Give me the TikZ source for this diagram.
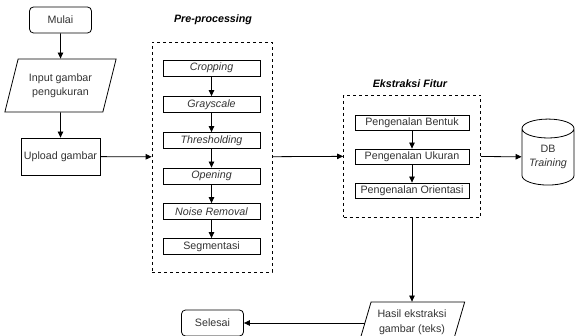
\documentclass[tikz,border=0pt]{standalone}
\usepackage{fontspec}
\setmainfont{Liberation Sans}
\usetikzlibrary{shapes.geometric,arrows.meta}

\begin{document}
\begin{tikzpicture}[
                x=1pt, y=-1pt,
                font=\fontsize{10.7}{12.5}\selectfont,
                every node/.style={text=black!80, inner sep=0pt, align=center},
                box/.style={draw=black, fill=white, minimum width=#1, line width=.8pt},
                box/.default=97pt,
                term/.style={box=62pt, rounded corners=4pt, minimum height=26pt},
                io/.style={draw=black, line width=.8pt, trapezium, trapezium left angle=68, trapezium right angle=112,
                    trapezium stretches=true},
                group/.style={draw=black, dashed, line width=.7pt},
                title/.style={text=black, font=\fontsize{10.7}{12.5}\selectfont\bfseries\itshape},
                >={Triangle[length=6pt, width=5.5pt]},
            ]
                \useasboundingbox (0, 0) rectangle (575, 336);

                \node[term] (start) at (60.5, 20) {Mulai};
                \node[io, minimum width=112pt, minimum height=53pt] (input) at (60.5, 85.5) {Input gambar\\[2pt]pengukuran};
                \node[box=79pt, minimum height=37pt] (upload) at (60.5, 156.5) {Upload gambar};

                \node[title] (pretitle) at (213, 20) {Pre-processing};
                \node[group, minimum width=120pt, minimum height=230pt] (pre) at (212, 157) {};
                \node[box, minimum height=16pt] (crop) at (211.5, 68) {\itshape Cropping};
                \node[box, minimum height=16pt] (gray) at (211.5, 104.5) {\itshape Grayscale};
                \node[box, minimum height=16pt] (thresh) at (211.5, 140.5) {\itshape Thresholding};
                \node[box, minimum height=16pt] (opening) at (211.5, 176) {\itshape Opening};
                \node[box, minimum height=16pt] (noise) at (211.5, 211.5) {\itshape Noise Removal};
                \node[box, minimum height=16pt] (segm) at (211.5, 246.5) {Segmentasi};

                \node[title] (fiturtitle) at (410, 84) {Ekstraksi Fitur};
                \node[group, minimum width=137pt, minimum height=122pt] (fitur) at (412, 156) {};
                \node[box=114pt, minimum height=15pt] (bentuk) at (412, 123) {Pengenalan Bentuk};
                \node[box=114pt, minimum height=15pt] (ukuran) at (412, 156.5) {Pengenalan Ukuran};
                \node[box=114pt, minimum height=15pt] (orient) at (412, 190.5) {Pengenalan Orientasi};

                \node[draw=black, line width=.8pt, cylinder, shape border rotate=90, aspect=.5,
                    minimum width=52pt, minimum height=66pt] (db) at (548, 157) {DB\\[2pt]\itshape Training};

                \node[io, minimum width=106pt, minimum height=40pt] (hasil) at (412, 322) {Hasil ekstraksi\\[2pt]gambar (teks)};
                \node[term] (selesai) at (212.5, 323) {Selesai};

                \path[->, line width=.8pt] (start) edge (input);
                \path[->, line width=.8pt] (input) edge (upload);
                \path[->, line width=.8pt] (upload) edge (pre);
                \path[->, line width=.8pt] (crop) edge (gray);
                \path[->, line width=.8pt] (gray) edge (thresh);
                \path[->, line width=.8pt] (thresh) edge (opening);
                \path[->, line width=.8pt] (opening) edge (noise);
                \path[->, line width=.8pt] (noise) edge (segm);
                \path[->, line width=.8pt] (pre) edge (fitur);
                \path[->, line width=.8pt] (bentuk) edge (ukuran);
                \path[->, line width=.8pt] (ukuran) edge (orient);
                \path[->, line width=.8pt] (fitur) edge (db);
                \path[->, line width=.8pt] (fitur) edge (hasil);
                \path[->, line width=.8pt] (hasil.west |- selesai) edge (selesai);

            \end{tikzpicture}
\end{document}
